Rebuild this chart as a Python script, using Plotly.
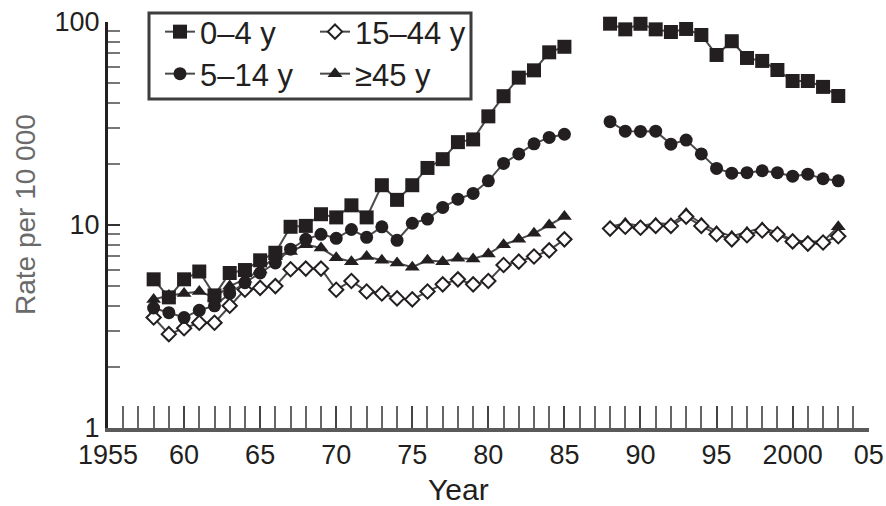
import plotly.graph_objects as go

# Calendar years of the series; 1986-1987 have no data (gap in the lines)
years = list(range(1958, 2004))

rate_0_4 = [5.4, 4.4, 5.4, 5.9, 4.5, 5.8, 6.0, 6.7, 7.3, 9.8,
            9.9, 11.3, 10.9, 12.5, 10.9, 15.7, 13.3, 15.7, 19.1, 21.1,
            25.6, 26.4, 34.3, 43.1, 53.2, 57.8, 70.9, 75.5, None, None,
            98.1, 92.0, 98.0, 92.0, 89.3, 92.4, 86.3, 68.8, 80.4, 66.5,
            64.3, 58.0, 51.2, 51.2, 47.9, 43.2]

rate_5_14 = [3.9, 3.7, 3.5, 3.8, 4.0, 4.6, 5.2, 5.8, 6.5, 7.6,
             8.5, 9.0, 8.6, 9.5, 8.7, 9.8, 8.4, 10.2, 10.7, 12.2,
             13.4, 14.3, 16.5, 20.1, 22.4, 25.1, 27.0, 28.0, None, None,
             32.3, 29.0, 28.9, 29.0, 25.0, 26.2, 22.4, 19.0, 18.0, 18.1,
             18.5, 18.1, 17.4, 17.8, 16.9, 16.5]

rate_15_44 = [3.5, 2.9, 3.1, 3.3, 3.3, 4.0, 4.8, 4.9, 5.0, 6.05,
              6.1, 6.1, 4.8, 5.3, 4.7, 4.6, 4.35, 4.3, 4.7, 5.1,
              5.4, 5.1, 5.3, 6.35, 6.6, 7.0, 7.5, 8.5, None, None,
              9.6, 9.8, 9.7, 9.9, 9.9, 11.0, 9.9, 9.0, 8.5, 8.9,
              9.4, 9.0, 8.3, 8.1, 8.2, 8.8]

rate_45_plus = [4.3, 4.5, 4.6, 4.7, 4.4, 5.0, 5.4, 6.0, 7.0, 7.4,
                8.0, 7.7, 6.9, 6.6, 7.0, 6.7, 6.5, 6.2, 6.7, 6.6,
                6.85, 6.8, 7.2, 8.0, 8.5, 9.1, 10.0, 11.0, None, None,
                9.8, 10.2, 9.9, 10.2, 10.1, 11.4, 10.2, 9.3, 8.8, 9.2,
                9.7, 9.2, 8.4, 8.3, 8.3, 9.8]

x_tick_vals = [1955, 1960, 1965, 1970, 1975, 1980, 1985, 1990, 1995, 2000, 2005]
x_tick_text = ["1955", "60", "65", "70", "75", "80", "85", "90", "95", "2000", "05"]
y_tick_vals = [1, 10, 100]
y_tick_text = ["1", "10", "100"]
y_minor_vals = [2, 3, 4, 5, 6, 7, 8, 9, 20, 30, 40, 50, 60, 70, 80, 90]

INK = "#231f20"
LINE = "#4a4a4a"
FONT = "Liberation Sans"

fig = go.Figure()

series = [
    # name, values, symbol, size, fill, legend, rank
    ("\u226545 y", rate_45_plus, "triangle-up", 13, INK, "legend2", 2),
    ("15\u201344 y", rate_15_44, "diamond", 11, "white", "legend", 2),
    ("5\u201314 y", rate_5_14, "circle", 13, INK, "legend2", 1),
    ("0\u20134 y", rate_0_4, "square", 14, INK, "legend", 1),
]

for name, vals, sym, size, fill, leg, rank in series:
    fig.add_trace(go.Scatter(
        x=years, y=vals, name=name, mode="lines+markers",
        connectgaps=False, cliponaxis=False,
        line=dict(color=LINE, width=2),
        marker=dict(symbol=sym, size=size, color=fill,
                    line=dict(color=INK, width=2 if fill == "white" else 0)),
        legend=leg, legendrank=rank,
    ))

W, H = 886, 506
L, R, T, B = 108, 17, 22, 78
pw, ph = W - L - R, H - T - B

def px_x(x):
    return (x - L) / pw

def px_y(y):
    return (H - B - y) / ph

legend_common = dict(
    orientation="h", xanchor="left", yanchor="top",
    entrywidth=110, entrywidthmode="pixels",
    bgcolor="rgba(0,0,0,0)", borderwidth=0,
    font=dict(family=FONT, size=31, color=INK),
    itemwidth=30, tracegroupgap=0,
)

fig.update_layout(
    width=W, height=H,
    margin=dict(l=L, r=R, t=T, b=B, autoexpand=False),
    paper_bgcolor="white", plot_bgcolor="white",
    font=dict(family=FONT, size=28, color=INK),
    showlegend=True,
    legend=dict(x=px_x(160), y=px_y(5), **legend_common),
    legend2=dict(x=px_x(160), y=px_y(47), **legend_common),
    xaxis=dict(
        range=[1955, 2005.02], tickvals=x_tick_vals, ticktext=x_tick_text,
        ticks="inside", ticklen=22, tickwidth=2, tickcolor="#444",
        minor=dict(dtick=1, tick0=1955, ticks="inside", ticklen=22,
                   tickwidth=2, tickcolor="#666"),
        showline=True, linewidth=4, linecolor="#5a5a5a",
        showgrid=False, zeroline=False, ticklabeloverflow="allow",
        automargin=False,
        tickfont=dict(family=FONT, size=27, color=INK),
    ),
    yaxis=dict(
        type="log", range=[0, 2],
        tickvals=y_tick_vals, ticktext=y_tick_text,
        ticks="inside", ticklen=12, tickwidth=2, tickcolor="#333",
        minor=dict(tickvals=y_minor_vals, ticks="inside", ticklen=12,
                   tickwidth=2, tickcolor="#777"),
        showline=True, linewidth=3, linecolor=INK,
        showgrid=False, zeroline=False, automargin=False,
        tickfont=dict(family=FONT, size=27, color=INK),
    ),
    annotations=[
        dict(text="Year", xref="paper", yref="paper",
             x=px_x(458), y=px_y(489), xanchor="center", yanchor="middle",
             showarrow=False, font=dict(family=FONT, size=30, color=INK)),
        dict(text="Rate per 10 000", xref="paper", yref="paper",
             x=px_x(25), y=px_y(215), xanchor="center", yanchor="middle",
             textangle=-90, showarrow=False,
             font=dict(family=FONT, size=28, color="#6a6a6a")),
    ],
    shapes=[dict(
        type="rect", xref="paper", yref="paper",
        x0=px_x(149), x1=px_x(471), y0=px_y(99), y1=px_y(13),
        line=dict(color="#3d3d3d", width=3), fillcolor="rgba(0,0,0,0)",
    )],
)

fig.write_html("out.html")
